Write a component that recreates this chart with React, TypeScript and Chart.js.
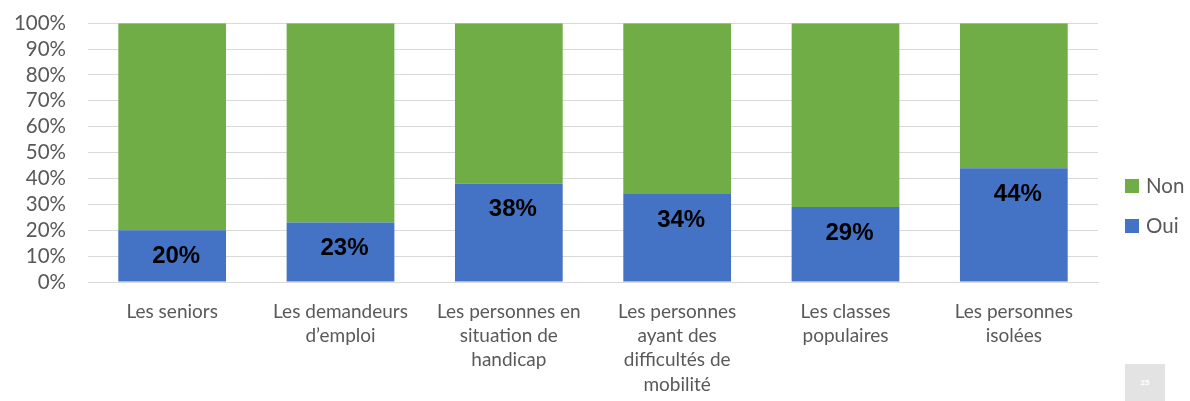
import React, { useEffect, useRef } from "react";
import { Chart, registerables } from "chart.js";

Chart.register(...registerables);

const categories: string[][] = [
  ["Les seniors"],
  ["Les demandeurs", "d’emploi"],
  ["Les personnes en", "situation de", "handicap"],
  ["Les personnes", "ayant des", "difficultés de", "mobilité"],
  ["Les classes", "populaires"],
  ["Les personnes", "isolées"],
];
const ouiValues = [20, 23, 38, 34, 29, 44];
const nonValues = [80, 77, 62, 66, 71, 56];
const seriesNames = ["Oui", "Non"];
const seriesColors = ["#4472C4", "#70AD47"];

const valueLabelPlugin = {
  id: "valueLabels",
  afterDatasetsDraw(chart: any) {
    const ctx = chart.ctx;
    const meta = chart.getDatasetMeta(0);
    ctx.save();
    ctx.font = "bold 24px 'Liberation Sans', Arial, sans-serif";
    ctx.fillStyle = "#000000";
    ctx.textAlign = "center";
    ctx.textBaseline = "middle";
    meta.data.forEach((bar: any, i: number) => {
      ctx.fillText(ouiValues[i] + "%", bar.x + 4, bar.y + 26);
    });
    ctx.restore();
  },
};

const legendPlugin = {
  id: "sideLegend",
  afterDraw(chart: any) {
    const ctx = chart.ctx;
    const x = chart.chartArea.right + 27;
    const items = [
      { label: seriesNames[1], color: seriesColors[1], y: 186 },
      { label: seriesNames[0], color: seriesColors[0], y: 226 },
    ];
    ctx.save();
    ctx.font = "20.5px Lato, 'Open Sans', sans-serif";
    ctx.textBaseline = "middle";
    ctx.textAlign = "left";
    items.forEach((it) => {
      ctx.fillStyle = it.color;
      ctx.fillRect(x, it.y - 7, 14, 14);
      ctx.fillStyle = "#595959";
      ctx.fillText(it.label, x + 21, it.y);
    });
    ctx.restore();
  },
};

export default function App() {
  const ref = useRef<HTMLCanvasElement>(null);
  useEffect(() => {
    document.body.style.margin = "0";
    const chart = new Chart(ref.current!, {
      type: "bar",
      data: {
        labels: categories,
        datasets: [
          {
            label: seriesNames[0],
            data: ouiValues,
            backgroundColor: seriesColors[0],
            categoryPercentage: 1,
            barPercentage: 0.64,
          },
          {
            label: seriesNames[1],
            data: nonValues,
            backgroundColor: seriesColors[1],
            categoryPercentage: 1,
            barPercentage: 0.64,
          },
        ],
      },
      options: {
        responsive: false,
        animation: false,
        layout: { padding: { left: 0, right: 92, top: 0, bottom: 0 } },
        plugins: {
          legend: { display: false },
          tooltip: { enabled: false },
        },
        scales: {
          x: {
            stacked: true,
            grid: { display: false },
            border: { display: true, color: "#d9d9d9", width: 1 },
            ticks: {
              color: "#595959",
              font: { family: "Lato, 'Open Sans', sans-serif", size: 19, lineHeight: 1.27 },
              padding: 10,
              maxRotation: 0,
              autoSkip: false,
            },
            afterFit(scale: any) {
              scale.height = 119;
            },
          },
          y: {
            stacked: true,
            min: 0,
            max: 100,
            ticks: {
              stepSize: 10,
              autoSkip: false,
              color: "#595959",
              font: { family: "Lato, 'Open Sans', sans-serif", size: 20.5, lineHeight: 1 },
              padding: 13,
              callback: (v: any) => v + "%",
            },
            grid: {
              color: "#d9d9d9",
              lineWidth: 1,
              drawTicks: true,
              tickLength: 9,
              tickColor: "rgba(0,0,0,0)",
            },
            border: { display: false },
            afterFit(scale: any) {
              scale.width = 88;
            },
          },
        },
      },
      plugins: [valueLabelPlugin, legendPlugin],
    });
    return () => chart.destroy();
  }, []);
  return (
    <div style={{ position: "relative", width: 1190, height: 401, background: "#fff" }}>
      <canvas ref={ref} width={1190} height={401} style={{ display: "block" }} />
      <div
        style={{
          position: "absolute",
          left: 1125,
          top: 364,
          width: 40,
          height: 37,
          background: "#e3e3e3",
          color: "#ffffff",
          fontFamily: "'Liberation Sans', Arial, sans-serif",
          fontSize: 8,
          fontWeight: "bold",
          display: "flex",
          alignItems: "center",
          justifyContent: "center",
        }}
      >
        25
      </div>
    </div>
  );
}
